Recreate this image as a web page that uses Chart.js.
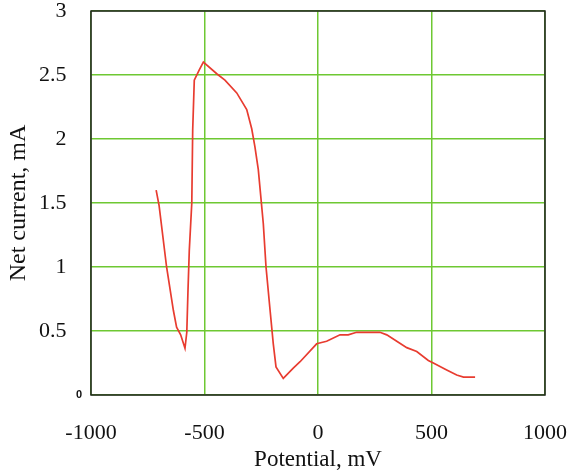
<!DOCTYPE html>
<html lang="en">
  <head>
    <meta charset="UTF-8" />
    <title>Net current vs potential</title>
    <script src="https://cdn.jsdelivr.net/npm/chart.js@4.4.0/dist/chart.umd.min.js"></script>
    <style>
      html, body { margin: 0; padding: 0; background: #fff; }
      #wrap { width: 578px; height: 474px; }
    </style>
  </head>
  <body>
    <div id="wrap">
      <canvas id="chart" width="578" height="474"></canvas>
    </div>

    <script>
      // values (mV, mA)
      const potential = [
        -713, -700, -667, -637, -623, -605, -586, -578, -573, -567, -556,
        -552, -545, -523, -505, -446, -410, -358, -314, -292, -278, -263,
        -252, -241, -229, -211, -197, -185, -153, -109, -79, -6, 38, 97,
        133, 170, 207, 273, 303, 347, 391, 435, 486, 508, 567, 611, 641, 692
      ];
      const current = [
        1.60, 1.48, 1.00, 0.66, 0.53, 0.47, 0.365, 0.49, 0.80, 1.13, 1.50,
        2.07, 2.46, 2.54, 2.60, 2.51, 2.46, 2.36, 2.23, 2.08, 1.94, 1.76,
        1.55, 1.34, 1.00, 0.66, 0.40, 0.22, 0.13, 0.21, 0.26, 0.40, 0.42, 0.47,
        0.47, 0.49, 0.49, 0.49, 0.47, 0.42, 0.37, 0.34, 0.27, 0.25, 0.195, 0.156, 0.14, 0.14
      ];
      const xTicks = [-1000, -500, 0, 500, 1000];
      const yTicks = [0, 0.5, 1, 1.5, 2, 2.5, 3];

      const points = potential.map((x, i) => ({ x: x, y: current[i] }));

      const green = "rgb(110,200,50)";
      const serif = "'Liberation Serif', 'DejaVu Serif', serif";

      // black frame round the plot area
      const frame = {
        id: "frame",
        afterDraw(chart) {
          const a = chart.chartArea;
          const ctx = chart.ctx;
          ctx.save();
          ctx.strokeStyle = "#222";
          ctx.lineWidth = 1.5;
          ctx.strokeRect(a.left, a.top, a.right - a.left, a.bottom - a.top);
          ctx.restore();
        }
      };

      new Chart(document.getElementById("chart"), {
        type: "line",
        data: {
          datasets: [{
            data: points,
            borderColor: "rgb(232,60,48)",
            borderWidth: 1.7,
            pointRadius: 0,
            tension: 0,
            fill: false
          }]
        },
        options: {
          responsive: false,
          animation: false,
          layout: { padding: { top: 11, right: 33, left: 0, bottom: 0 } },
          plugins: { legend: { display: false }, tooltip: { enabled: false } },
          scales: {
            x: {
              type: "linear",
              min: -1000,
              max: 1000,
              afterBuildTicks: (s) => { s.ticks = xTicks.map(v => ({ value: v })); },
              afterFit: (s) => {
                s.height = 79;
                s.paddingLeft = 0;
                s.paddingRight = 0;
              },
              grid: { color: green, lineWidth: 1.5, drawTicks: false },
              border: { display: false },
              ticks: {
                padding: 25,
                color: "#111",
                font: { family: serif, size: 22 },
                maxRotation: 0,
                callback: (v) => String(v)
              },
              title: {
                display: true,
                text: "Potential, mV",
                color: "#111",
                font: { family: serif, size: 23 },
                padding: 0
              }
            },
            y: {
              min: 0,
              max: 3,
              afterBuildTicks: (s) => { s.ticks = yTicks.map(v => ({ value: v })); },
              afterFit: (s) => {
                s.width = 91;
                s.paddingTop = 0;
                s.paddingBottom = 0;
              },
              grid: { color: green, lineWidth: 1.5, drawTicks: false },
              border: { display: false },
              ticks: {
                padding: 9,
                color: "#111",
                // the zero label sits closer to the axis than the others
                callback: (v) => v === 0 ? "0" : String(v) + "\u2002\u2009",
                font: (c) => c.tick && c.tick.value === 0
                  ? { family: "'Liberation Sans', sans-serif", size: 11, weight: "bold" }
                  : { family: serif, size: 22 }
              },
              title: {
                display: true,
                text: "Net current, mA",
                color: "#111",
                font: { family: serif, size: 24 },
                padding: { top: 4, bottom: 0 }
              }
            }
          }
        },
        plugins: [frame]
      });
    </script>
  </body>
</html>
